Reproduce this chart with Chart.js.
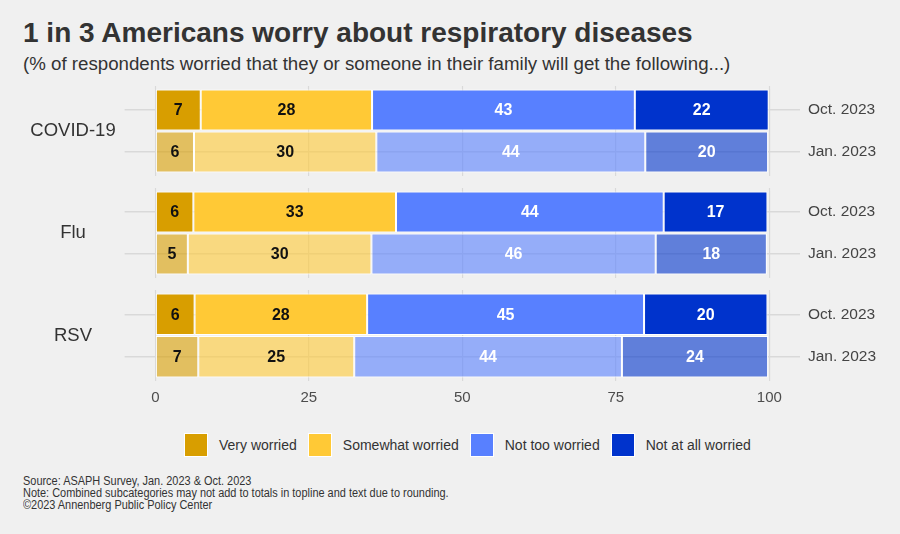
<!DOCTYPE html>
<html>
<head>
<meta charset="utf-8">
<script src="https://cdn.jsdelivr.net/npm/chart.js@4"></script>
<style>
  html, body { margin: 0; padding: 0; background: #f0f0f0; }
  body { width: 900px; height: 534px; position: relative; overflow: hidden;
         font-family: "Liberation Sans", Arial, sans-serif; color: #333; }
  .title { position: absolute; left: 23px; top: 19px; font-size: 28px; font-weight: bold; line-height: 1; white-space: nowrap; }
  .subtitle { position: absolute; left: 23px; top: 55px; font-size: 18.7px; line-height: 1; white-space: nowrap; }
  canvas.facet { position: absolute; left: 0; }
  #legend { position: absolute; left: 184px; top: 433px; display: flex; align-items: center; font-size: 14px; }
  #legend .item { display: flex; align-items: center; margin-right: 11px; }
  #legend .box { width: 22px; height: 22px; border: 1px solid #fff; margin-right: 11px; }
  .notes { position: absolute; left: 23px; top: 475px; font-size: 12.5px; line-height: 12px; white-space: nowrap;
           transform: scaleX(0.875); transform-origin: left top; }
</style>
</head>
<body>
<div class="title">1 in 3 Americans worry about respiratory diseases</div>
<div class="subtitle">(% of respondents worried that they or someone in their family will get the following...)</div>
<canvas class="facet" id="facet0" width="900" height="90" style="top:86px"></canvas>
<canvas class="facet" id="facet1" width="900" height="90" style="top:188px"></canvas>
<canvas class="facet" id="facet2" width="900" height="125" style="top:290px"></canvas>
<div id="legend"></div>
<div class="notes">Source: ASAPH Survey, Jan. 2023 &amp; Oct. 2023<br>Note: Combined subcategories may not add to totals in topline and text due to rounding.<br>©2023 Annenberg Public Policy Center</div>
<script>
const groups = ['COVID-19', 'Flu', 'RSV'];
const waves = ['Oct. 2023', 'Jan. 2023'];
const xTicks = [0, 25, 50, 75, 100];

// % per group, [Oct. 2023, Jan. 2023]
const veryWorried = [[7.4, 6.3], [6.2, 5.3], [6.4, 7.0]];
const somewhatWorried = [[27.9, 29.7], [33.0, 29.9], [28.1, 25.4]];
const notTooWorried = [[42.8, 43.8], [43.6, 46.3], [45.1, 43.6]];
const notAtAllWorried = [[21.8, 20.0], [16.9, 18.1], [20.1, 23.8]];

const series = [
  { label: 'Very worried', values: veryWorried, rgb: '216,158,0', text: '#111' },
  { label: 'Somewhat worried', values: somewhatWorried, rgb: '255,201,54', text: '#111' },
  { label: 'Not too worried', values: notTooWorried, rgb: '88,128,255', text: '#fff' },
  { label: 'Not at all worried', values: notAtAllWorried, rgb: '0,51,204', text: '#fff' }
];

Chart.defaults.font.family = '"Liberation Sans", Arial, sans-serif';
const gridColor = '#d9d9d9';

// bar value labels, rounded like the original
const valueLabels = {
  id: 'valueLabels',
  afterDatasetsDraw(chart) {
    const ctx = chart.ctx;
    ctx.save();
    ctx.font = 'bold 16px "Liberation Sans", Arial, sans-serif';
    ctx.textAlign = 'center';
    ctx.textBaseline = 'middle';
    chart.data.datasets.forEach((ds, d) => {
      chart.getDatasetMeta(d).data.forEach((bar, j) => {
        ctx.fillStyle = ds.textColor;
        ctx.fillText(Math.round(ds.data[j]), (bar.x + bar.base) / 2, bar.y + 1);
      });
    });
    ctx.restore();
  }
};

// group name to the left of each facet
const facetLabel = {
  id: 'facetLabel',
  afterDraw(chart, args, opts) {
    const { ctx, chartArea } = chart;
    ctx.save();
    ctx.font = '18.5px "Liberation Sans", Arial, sans-serif';
    ctx.fillStyle = '#333';
    ctx.textAlign = 'center';
    ctx.textBaseline = 'middle';
    ctx.fillText(opts.text, 73, (chartArea.top + chartArea.bottom) / 2);
    ctx.restore();
  }
};

const setTicks = scale => { scale.ticks = xTicks.map(v => ({ value: v })); };

function makeFacet(i) {
  const last = i === groups.length - 1;
  new Chart(document.getElementById('facet' + i), {
    type: 'bar',
    data: {
      labels: waves,
      datasets: series.map(s => ({
        label: s.label,
        data: s.values[i],
        xAxisID: 'x',
        yAxisID: 'y',
        backgroundColor: ['rgb(' + s.rgb + ')', 'rgba(' + s.rgb + ',0.6)'],
        borderColor: '#fff',
        borderWidth: 1,
        borderSkipped: false,
        barPercentage: 0.976,
        categoryPercentage: 1,
        textColor: s.text
      }))
    },
    options: {
      indexAxis: 'y',
      responsive: false,
      animation: false,
      devicePixelRatio: 1,
      layout: { padding: { left: 124.6, right: 0, top: 0, bottom: 0 } },
      plugins: {
        legend: { display: false },
        tooltip: { enabled: false },
        facetLabel: { text: groups[i] }
      },
      scales: {
        x: {
          type: 'linear', stacked: true, min: -5, max: 105, position: 'bottom',
          afterBuildTicks: setTicks,
          grid: { color: gridColor, lineWidth: 1.2, tickLength: 3, tickColor: gridColor, tickWidth: 1.2 },
          border: { display: false },
          ticks: { display: last, color: '#4d4d4d', font: { size: 15 }, padding: 8 }
        },
        xTop: {
          type: 'linear', axis: 'x', min: -5, max: 105, position: 'top',
          afterBuildTicks: setTicks,
          grid: { drawOnChartArea: false, tickLength: 3, tickColor: gridColor, tickWidth: 1.2 },
          border: { display: false },
          ticks: { display: false }
        },
        y: {
          type: 'category', stacked: true, position: 'right',
          grid: { offset: false, color: gridColor, lineWidth: 1.5, drawTicks: false },
          border: { display: false },
          ticks: { color: '#444', font: { size: 15.5 }, padding: 8 },
          afterFit: s => { s.width = 100; s.paddingTop = 0; s.paddingBottom = 0; }
        }
      }
    },
    plugins: [valueLabels, facetLabel]
  });
}

groups.forEach((g, i) => makeFacet(i));

// legend
const legend = document.getElementById('legend');
series.forEach(s => {
  const item = document.createElement('div');
  item.className = 'item';
  const box = document.createElement('div');
  box.className = 'box';
  box.style.background = 'rgb(' + s.rgb + ')';
  const txt = document.createElement('span');
  txt.textContent = s.label;
  item.appendChild(box);
  item.appendChild(txt);
  legend.appendChild(item);
});
</script>
</body>
</html>
